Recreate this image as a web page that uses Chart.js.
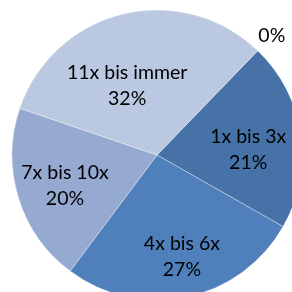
<!DOCTYPE html>
<html>
<head>
<meta charset="utf-8">
<script src="https://cdn.jsdelivr.net/npm/chart.js@4/dist/chart.umd.min.js"></script>
<style>
  html,body{margin:0;padding:0;background:#fff;overflow:hidden}
  #wrap{width:292px;height:292px;overflow:hidden;position:relative}
  canvas{position:absolute;left:0;top:0}
</style>
</head>
<body>
<div id="wrap"><canvas id="pie" width="314" height="310"></canvas></div>
<script>
const labels = ['', '1x bis 3x', '4x bis 6x', '7x bis 10x', '11x bis immer']
const values = [0, 21, 27, 20, 32]
const colors = ['#4672A8', '#4672A8', '#4F80BC', '#95A9D1', '#BAC8E1']
// label placement per slice: fraction of radius, angle nudge in degrees
const labelDist = [1.14, 0.63, 0.72, 0.67, 0.52]
const labelTurn = [0, 5, -2, -1.5, -9.7]

const sliceLabels = {
  id:'sliceLabels',
  afterDatasetsDraw(chart){
    const ctx = chart.ctx, meta = chart.getDatasetMeta(0)
    const total = values.reduce((a,b)=>a+b,0)
    ctx.save()
    ctx.fillStyle = '#000'
    ctx.font = '19.5px Lato'
    ctx.textAlign = 'center'
    ctx.textBaseline = 'middle'
    meta.data.forEach((arc,i)=>{
      const p = arc.getProps(['x','y','startAngle','endAngle','outerRadius'],true)
      const a = (p.startAngle+p.endAngle)/2 + labelTurn[i]*Math.PI/180
      const r = p.outerRadius*labelDist[i]
      const x = p.x+Math.cos(a)*r, y = p.y+Math.sin(a)*r
      const pct = Math.round(values[i]/total*100)+'%'
      if(labels[i]){
        ctx.fillText(labels[i],x,y-13)
        ctx.fillText(pct,x,y+13)
      } else ctx.fillText(pct,x,y)
    })
    ctx.restore()
  }
}

new Chart(document.getElementById('pie'),{
  type:'pie',
  data:{ labels, datasets:[{ data:values, backgroundColor:colors, borderColor:'rgba(255,255,255,0.35)', borderWidth:1 }] },
  options:{
    responsive:false, animation:false,
    radius:145, rotation:44,
    layout:{padding:0},
    plugins:{ legend:{display:false}, tooltip:{enabled:false} }
  },
  plugins:[sliceLabels]
})
</script>
</body>
</html>
